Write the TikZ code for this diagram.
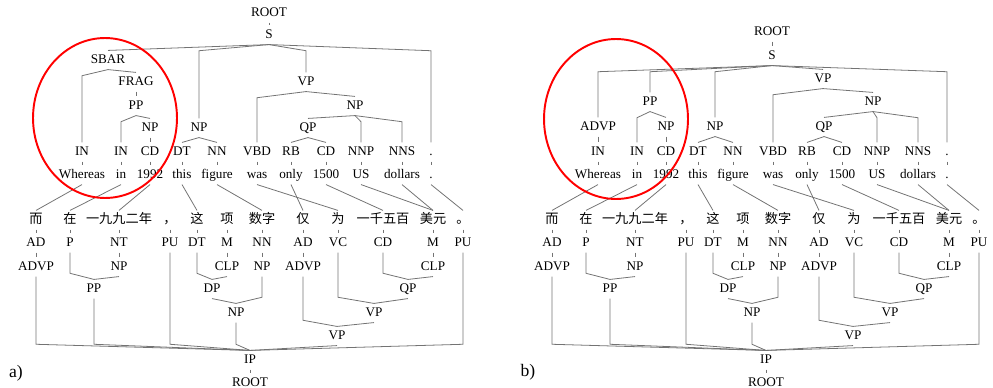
\documentclass[tikz,border=0pt]{standalone}
\usepackage{fontspec}
\setmainfont{Liberation Serif}
\newfontfamily\cjk{Noto Sans CJK SC}
\usetikzlibrary{calc}
\colorlet{treeline}{black!55}

\tikzset{
  lbl/.style={inner xsep=1pt, inner ysep=2.5pt, text height=5pt, text depth=0.5pt, font=\fontsize{7.5}{9}\selectfont},
  zh/.style={lbl, font=\fontsize{7.5}{9}\selectfont\cjk},
  tline/.style={draw=treeline, line width=0.45pt},
  hang/.style={to path={let \p1=(\tikztostart), \p2=(\tikztotarget) in -- (\x2,{max(\y1-3.5pt,\y2)}) -- (\tikztotarget)}},
  merge/.style={to path={let \p1=(\tikztostart), \p2=(\tikztotarget) in -- (\x1,{min(\y2+3.5pt,\y1)}) -- (\tikztotarget)}}
}

% words, tags, Chinese tree and word links of one panel: #1 name, #2 x offset
\newcommand{\lowerhalf}[2]{%
  \foreach \nm/\px/\tg/\wrd in {in1/82/IN/Whereas, in2/121/IN/in, cd1/150/CD/1992, dt/182/DT/this, nn/217/NN/figure, vbd/257/VBD/was, rb/291/RB/only, cd2/326/CD/1500, nnp/361/NNP/US, nns/402/NNS/dollars, pd/431/./.} {
    \node[lbl] (#1-\nm) at (#2+\px,152) {\tg};
    \node[lbl] (#1-\nm-w) at (#2+\px,175) {\wrd};
    \draw[tline] (#1-\nm.south) -- (#1-\nm-w.north);
  }
  \foreach \nm/\px/\wrd/\tg in {er/36/而/AD, zai/70/在/P, nian/119/一九九二年/NT, dou/170/，/PU, zhe/197/这/DT, xiang/227/项/M, shu/262/数字/NN, jin/303/仅/AD, wei/338/为/VC, qian/383/一千五百/CD, mei/433/美元/M, ju/463/。/PU} {
    \node[zh] (#1-\nm) at (#2+\px,220) {\wrd};
    \node[lbl] (#1-\nm-t) at (#2+\px,243) {\tg};
    \draw[tline] (#1-\nm.south) -- (#1-\nm-t.north);
  }
  \node[lbl] (#1-zadvp) at (#2+36,267) {ADVP};
  \node[lbl] (#1-znp1) at (#2+119,267) {NP};
  \node[lbl] (#1-zclp1) at (#2+227,267) {CLP};
  \node[lbl] (#1-znp2) at (#2+262,267) {NP};
  \node[lbl] (#1-zadvp2) at (#2+303,267) {ADVP};
  \node[lbl] (#1-zclp2) at (#2+433,267) {CLP};
  \node[lbl] (#1-zpp) at (#2+94,289) {PP};
  \node[lbl] (#1-zdp) at (#2+212,289) {DP};
  \node[lbl] (#1-zqp) at (#2+408,289) {QP};
  \node[lbl] (#1-znp3) at (#2+236,313) {NP};
  \node[lbl] (#1-zvp1) at (#2+374,313) {VP};
  \node[lbl] (#1-zvp2) at (#2+337,336) {VP};
  \node[lbl] (#1-zip) at (#2+250,360) {IP};
  \node[lbl] (#1-zroot) at (#2+250,383) {ROOT};
  \foreach \ua/\ub in {er-t/zadvp, nian-t/znp1, xiang-t/zclp1, shu-t/znp2, jin-t/zadvp2, mei-t/zclp2, zip/zroot} { \draw[tline] (#1-\ua.south) -- (#1-\ub.north); }
  \foreach \ua/\ub in {zai-t/zpp, znp1/zpp, zhe-t/zdp, zclp1/zdp, zdp/znp3, znp2/znp3, qian-t/zqp, zclp2/zqp, wei-t/zvp1, zqp/zvp1, zadvp2/zvp2, zvp1/zvp2, zadvp/zip, zpp/zip, dou-t/zip, znp3/zip, zvp2/zip, ju-t/zip} { \draw[tline] (#1-\ua.south) to[merge] (#1-\ub.north); }
  \foreach \ua/\ub in {in1/er, in2/zai, cd1/nian, dt/zhe, nn/shu, vbd/wei, rb/jin, cd2/qian, nnp/mei, nns/mei, pd/ju} { \draw[tline] (#1-\ua-w.south) -- (#1-\ub.north); }
}

\begin{document}
\begin{tikzpicture}[x=0.02cm, y=-0.02cm]
  \useasboundingbox (0,0) rectangle (993,388);

  % a)
  \lowerhalf{a}{0}
  \node[lbl] (a-troot) at (269,13) {ROOT};
  \node[lbl] (a-s) at (269,35) {S};
  \node[lbl] (a-sbar) at (108,60) {SBAR};
  \node[lbl] (a-frag) at (136,82) {FRAG};
  \node[lbl] (a-tpp) at (136,106) {PP};
  \node[lbl] (a-npc) at (150,128) {NP};
  \node[lbl] (a-nps) at (199,128) {NP};
  \node[lbl] (a-vp) at (306,82) {VP};
  \node[lbl] (a-npo) at (355,106) {NP};
  \node[lbl] (a-qp) at (308,128) {QP};
  \foreach \ua/\ub in {troot/s, frag/tpp, npc/cd1} { \draw[tline] (a-\ua.south) -- (a-\ub.north); }
  \foreach \ua/\ub in {s/sbar, s/nps, s/vp, s/pd, sbar/in1, sbar/frag, tpp/in2, tpp/npc, nps/dt, nps/nn, vp/vbd, vp/npo, npo/qp, npo/nnp, npo/nns, qp/rb, qp/cd2} { \draw[tline] (a-\ua.south) to[hang] (a-\ub.north); }
  \draw[red, line width=1.1pt] (105,118) ellipse [x radius=1.44cm, y radius=1.6cm];
  \node[font=\fontsize{10}{12}\selectfont] (lab-a) at (16,373) {a)};

  % b)
  \lowerhalf{b}{516}
  \node[lbl] (b-troot) at (772,32) {ROOT};
  \node[lbl] (b-s) at (772,56) {S};
  \node[lbl] (b-tadvp) at (598,127) {ADVP};
  \node[lbl] (b-tpp) at (650,102) {PP};
  \node[lbl] (b-npc) at (666,127) {NP};
  \node[lbl] (b-nps) at (715,127) {NP};
  \node[lbl] (b-vp) at (823,79) {VP};
  \node[lbl] (b-npo) at (873,102) {NP};
  \node[lbl] (b-qp) at (824,127) {QP};
  \foreach \ua/\ub in {troot/s, tadvp/in1, npc/cd1} { \draw[tline] (b-\ua.south) -- (b-\ub.north); }
  \foreach \ua/\ub in {s/tadvp, s/tpp, s/nps, s/vp, s/pd, tpp/in2, tpp/npc, nps/dt, nps/nn, vp/vbd, vp/npo, npo/qp, npo/nnp, npo/nns, qp/rb, qp/cd2} { \draw[tline] (b-\ua.south) to[hang] (b-\ub.north); }
  \draw[red, line width=1.1pt] (616,119) ellipse [x radius=1.44cm, y radius=1.6cm];
  \node[font=\fontsize{10}{12}\selectfont] (lab-b) at (528,372) {b)};
\end{tikzpicture}
\end{document}
